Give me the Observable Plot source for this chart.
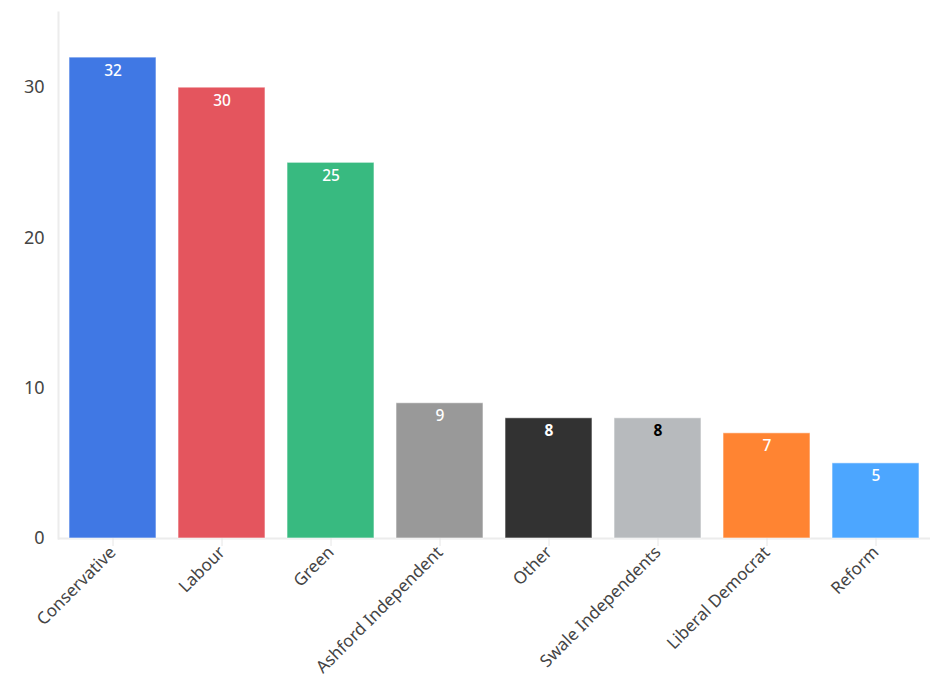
<!DOCTYPE html>
<html>
<head>
<meta charset="utf-8">
<script src="https://cdn.jsdelivr.net/npm/d3@7"></script>
<script src="https://cdn.jsdelivr.net/npm/@observablehq/plot@0.6"></script>
<style>
  html, body { margin: 0; padding: 0; background: #fff; }
  #chart svg { display: block; font-family: "Noto Sans", sans-serif; }
</style>
</head>
<body>
<div id="chart"></div>
<script>
const parties = ["Conservative", "Labour", "Green", "Ashford Independent", "Other", "Swale Independents", "Liberal Democrat", "Reform"];
const seats = [32, 30, 25, 9, 8, 8, 7, 5];
const colors = ["#2B69E1", "#E1434C", "#22B372", "#8E8E8E", "#1C1C1C", "#AFB2B6", "#FF771C", "#399CFF"];
const labelColors = ["#fff", "#fff", "#fff", "#fff", "#fff", "#000", "#fff", "#fff"];
const boldLabel = [false, false, false, false, true, true, false, false];
const yTicks = [0, 10, 20, 30];

const data = parties.map((p, i) => ({party: p, seats: seats[i], color: colors[i], labelColor: labelColors[i], bold: boldLabel[i]}));

const chart = Plot.plot({
  width: 945,
  height: 696,
  marginLeft: 58,
  marginRight: 15,
  marginTop: 12,
  marginBottom: 158,
  style: {fontFamily: "Noto Sans, sans-serif", background: "#fff"},
  x: {domain: parties, paddingInner: 0.2, paddingOuter: 0.1, label: null},
  y: {domain: [0, 35], label: null},
  marks: [
    Plot.gridY(yTicks, {stroke: "#e6e6e6", strokeOpacity: 1, strokeWidth: 1.2, x1: 49}),
    Plot.frame({anchor: "left", stroke: "#ececec", strokeWidth: 2}),
    Plot.ruleY([0], {stroke: "#ececec", strokeWidth: 2}),
    Plot.barY(data, {x: "party", y: "seats", fill: "color", fillOpacity: 0.9, stroke: "#ffffff", strokeOpacity: 0.6, strokeWidth: 1, inset: 0}),
    Plot.text(data.filter(d => !d.bold), {x: "party", y: "seats", text: d => String(d.seats), fill: "labelColor", dy: 13, fontSize: 15.5, fontWeight: 500}),
    Plot.text(data.filter(d => d.bold), {x: "party", y: "seats", text: d => String(d.seats), fill: "labelColor", dy: 13, fontSize: 15.5, fontWeight: 700}),
    Plot.axisY({ticks: yTicks, tickSize: 0, tickPadding: 14, fontSize: 18, color: "#444", label: null}),
    Plot.axisX({tickSize: 8, stroke: "#e6e6e6", tickRotate: -45, fontSize: 17, color: "#444", tickPadding: 3, label: null})
  ]
});
chart.querySelectorAll('[aria-label="x-axis tick label"] text, [aria-label="y-axis tick label"] text').forEach(t => t.setAttribute("fill", "#444"));
document.getElementById("chart").appendChild(chart);
</script>
</body>
</html>
